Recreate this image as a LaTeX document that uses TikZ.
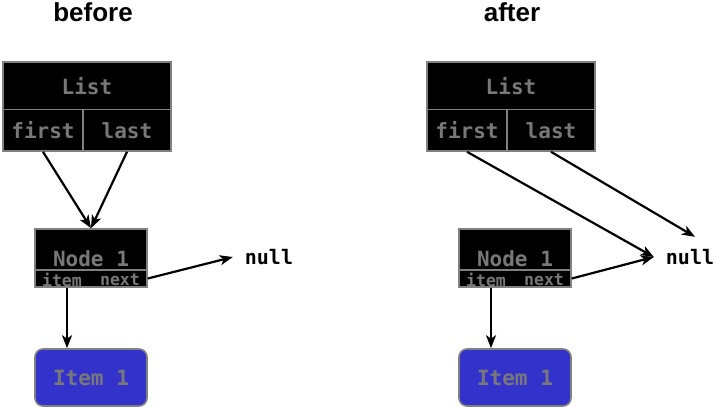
\documentclass[tikz,border=0pt]{standalone}
\usepackage{fontspec}
\setmainfont{Liberation Sans}
\newfontfamily\monof{DejaVu Sans Mono}
\usetikzlibrary{arrows.meta}
\definecolor{boxgray}{HTML}{808080}
\definecolor{txtgray}{HTML}{787878}
\definecolor{itemblue}{HTML}{3333CC}
\begin{document}
\begin{tikzpicture}[x=1pt,y=-1pt,
  box/.style={draw=boxgray, fill=black, line width=1.6pt, inner sep=0pt, text=txtgray,
    font=\monof\bfseries\fontsize{21}{21}\selectfont},
  small/.style={inner sep=0pt, text=txtgray, font=\monof\bfseries\fontsize{16.5}{16.5}\selectfont},
  itembox/.style={draw=boxgray, fill=itemblue, line width=1.6pt, rounded corners=8pt,
    inner sep=0pt, minimum width=112pt, minimum height=57pt, text=txtgray,
    font=\monof\bfseries\fontsize{21}{21}\selectfont},
  nullnode/.style={inner sep=0pt, minimum width=72pt, minimum height=40pt,
    font=\monof\bfseries\fontsize{20}{20}\selectfont},
  title/.style={font=\bfseries\fontsize{26}{26}\selectfont, anchor=base},
  arr/.style={line width=2.2pt, -{Stealth[length=13pt,width=10pt,inset=3.5pt]}}]
\useasboundingbox (0,0) rectangle (716,407);

% ---------- before ----------
\node[title] (tA) at (93,21) {before};
\node[box, minimum width=168pt, minimum height=47.5pt] (listA) at (87,85.75) {List};
\node[box, minimum width=80pt, minimum height=41.5pt] (firstA) at (43,130.25) {first};
\node[box, minimum width=88pt, minimum height=41.5pt] (lastA) at (127,130.25) {last};
\node[box, minimum width=112pt, text height=37pt, text depth=4pt] (n1A) at (91,249.5) {Node 1};
\node[box, minimum width=112pt, minimum height=17pt] (n1bA) at (91,278.5) {};
\node[small] (itA) at (62,279.5) {item};
\node[small] (nxA) at (120,279.5) {next};
\node[itembox] (itemA) at (91,377.5) {Item 1};
\node[nullnode] (nullA) at (269,257) {null};
\coordinate (axA) at (67,300);
\draw[arr] (firstA.south) -- (n1A.north);
\draw[arr] (lastA.south) -- (n1A.north);
\draw[arr] (n1bA.east) -- (nullA.west);
\draw[arr] (n1bA.south -| axA) -- (itemA.north -| axA);

% ---------- after ----------
\node[title] (tB) at (512,21) {after};
\node[box, minimum width=168pt, minimum height=47.5pt] (listB) at (511,85.75) {List};
\node[box, minimum width=80pt, minimum height=41.5pt] (firstB) at (467,130.25) {first};
\node[box, minimum width=88pt, minimum height=41.5pt] (lastB) at (551,130.25) {last};
\node[box, minimum width=112pt, text height=37pt, text depth=4pt] (n1B) at (515,249.5) {Node 1};
\node[box, minimum width=112pt, minimum height=17pt] (n1bB) at (515,278.5) {};
\node[small] (itB) at (486,279.5) {item};
\node[small] (nxB) at (544,279.5) {next};
\node[itembox] (itemB) at (515,377.5) {Item 1};
\node[nullnode] (nullB) at (690,257) {null};
\coordinate (axB) at (491,300);
\draw[arr] (firstB.south) -- (nullB.west);
\draw[arr] (lastB.south) -- ([xshift=5pt]nullB.north);
\draw[arr] (n1bB.east) -- (nullB.west);
\draw[arr] (n1bB.south -| axB) -- (itemB.north -| axB);
\end{tikzpicture}
\end{document}
